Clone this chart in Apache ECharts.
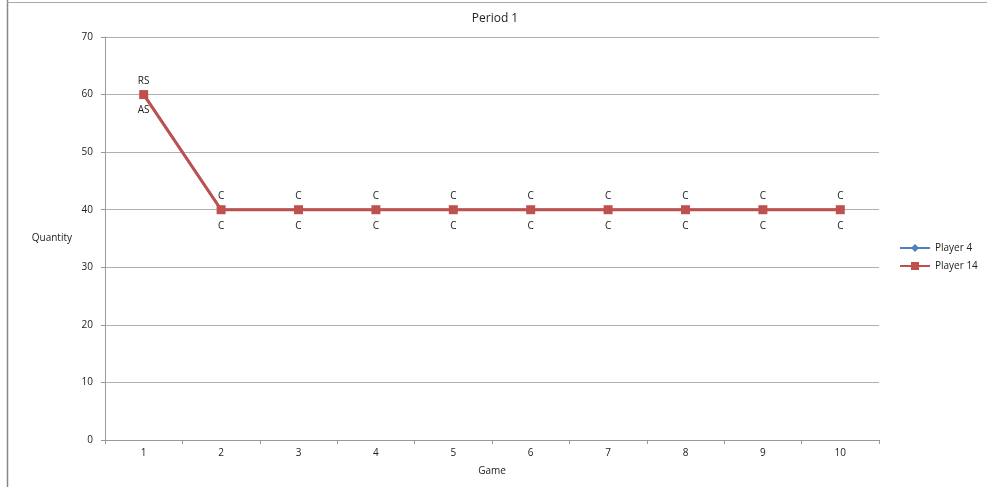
<!DOCTYPE html>
<html>
<head>
<meta charset="utf-8">
<script src="https://cdn.jsdelivr.net/npm/echarts@6/dist/echarts.min.js"></script>
<style>html,body{margin:0;padding:0;background:#fff;}#c{width:987px;height:487px;}</style>
</head>
<body>
<div id="c"></div>
<script>
var games = ['1','2','3','4','5','6','7','8','9','10'];
var player4 = [60,40,40,40,40,40,40,40,40,40];
var player14 = [60,40,40,40,40,40,40,40,40,40];
var player4Labels = ['AS','C','C','C','C','C','C','C','C','C'];
var player14Labels = ['RS','C','C','C','C','C','C','C','C','C'];
var yTicks = [0,10,20,30,40,50,60,70];

var chart = echarts.init(document.getElementById('c'), null, {renderer:'canvas'});
var font = 'Open Sans, DejaVu Sans, sans-serif';
chart.setOption({
  animation: false,
  backgroundColor: '#fff',
  textStyle: {fontFamily: font},
  title: {text: 'Period 1', left: 490, top: 8, textAlign: 'center',
    textStyle: {fontSize: 12, fontWeight: 'normal', color: '#222', fontFamily: font}},
  grid: {left: 105, right: 108, top: 37, bottom: 47},
  legend: {orient: 'vertical', left: 894, top: 238, itemGap: 8, itemWidth: 30, itemHeight: 10,
    textStyle: {fontSize: 10, color: '#222', fontFamily: font},
    data: ['Player 4', 'Player 14']},
  graphic: [
    {type:'line', shape:{x1:7.5,y1:0,x2:7.5,y2:487}, style:{stroke:'#888', lineWidth:1.5}},
    {type:'line', shape:{x1:7,y1:2.5,x2:987,y2:2.5}, style:{stroke:'#aaa', lineWidth:1}}
  ],
  xAxis: {type: 'category', data: games, boundaryGap: true,
    name: 'Game', nameLocation: 'middle', nameGap: 26,
    nameTextStyle: {fontSize: 10, color: '#222', fontFamily: font},
    axisLine: {lineStyle: {color: '#999'}},
    axisTick: {show: true, length: 4, lineStyle: {color: '#999'}},
    axisLabel: {fontSize: 10, color: '#222', margin: 8, fontFamily: font}},
  yAxis: {type: 'value', min: yTicks[0], max: yTicks[yTicks.length-1], interval: 10,
    name: 'Quantity', nameLocation: 'middle', nameGap: 33, nameRotate: 0,
    nameTextStyle: {fontSize: 10, color: '#222', fontFamily: font},
    axisLine: {show: true, lineStyle: {color: '#999'}},
    axisTick: {show: true, length: 4, lineStyle: {color: '#999'}},
    axisLabel: {fontSize: 10, color: '#222', margin: 12, fontFamily: font},
    splitLine: {lineStyle: {color: '#b0b0b0'}}},
  series: [
    {name: 'Player 4', type: 'line', data: player4, symbol: 'diamond', symbolSize: 8,
      itemStyle: {color: '#4F81BD'}, lineStyle: {width: 2.5, color: '#4F81BD'},
      label: {show: true, position: 'bottom', distance: 7, fontSize: 10, color: '#222',
        formatter: function(p){ return player4Labels[p.dataIndex]; }}},
    {name: 'Player 14', type: 'line', data: player14, symbol: 'rect', symbolSize: 9,
      itemStyle: {color: '#C0504D'}, lineStyle: {width: 3, color: '#C0504D'},
      label: {show: true, position: 'top', distance: 4, fontSize: 10, color: '#222',
        formatter: function(p){ return player14Labels[p.dataIndex]; }}}
  ]
});
</script>
</body>
</html>
